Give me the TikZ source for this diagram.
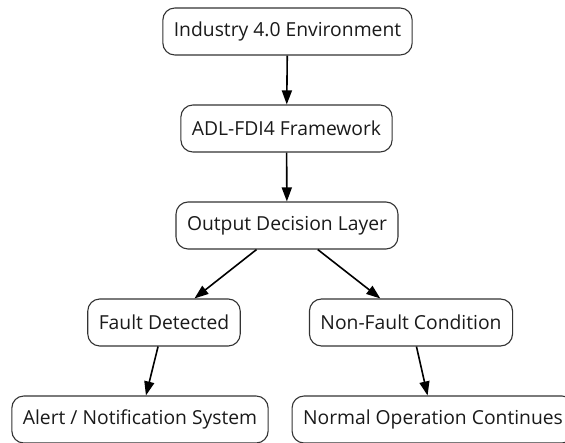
\documentclass[tikz,border=0pt]{standalone}
\usepackage{fontspec}
\setmainfont{Open Sans}
\usetikzlibrary{arrows.meta}
\definecolor{boxline}{HTML}{333333}
\definecolor{txt}{HTML}{1a1a1a}
\begin{document}
\begin{tikzpicture}[x=1pt,y=-1pt,
  box/.style={draw=boxline, line width=1.1pt, rounded corners=12pt, fill=white,
    minimum height=47pt, inner xsep=11pt, text=txt,
    font=\fontsize{19.3}{22}\selectfont},
  conn/.style={line width=1.6pt, -{Triangle[length=14pt,width=10pt]}}]
\clip (0,0) rectangle (565,443);
\fill[white] (0,0) rectangle (565,443);
\node[box] (n1) at (287.5,31.5) {Industry 4.0 Environment};
\node[box] (n2) at (286.5,128.5) {ADL-FDI4 Framework};
\node[box] (n3) at (287,225.5) {Output Decision Layer};
\node[box] (n4) at (164,322.5) {Fault Detected};
\node[box] (n5) at (411,322.5) {Non-Fault Condition};
\node[box] (n6) at (140,419.5) {Alert / Notification System};
\node[box] (n7) at (433,419.5) {Normal Operation Continues};
\draw[conn] (n1) -- (n2);
\draw[conn] (n2) -- (n3);
\draw[conn] (n3) -- (n4);
\draw[conn] (n3) -- (n5);
\draw[conn] (n4) -- (n6);
\draw[conn] (n5) -- (n7);
\end{tikzpicture}
\end{document}
